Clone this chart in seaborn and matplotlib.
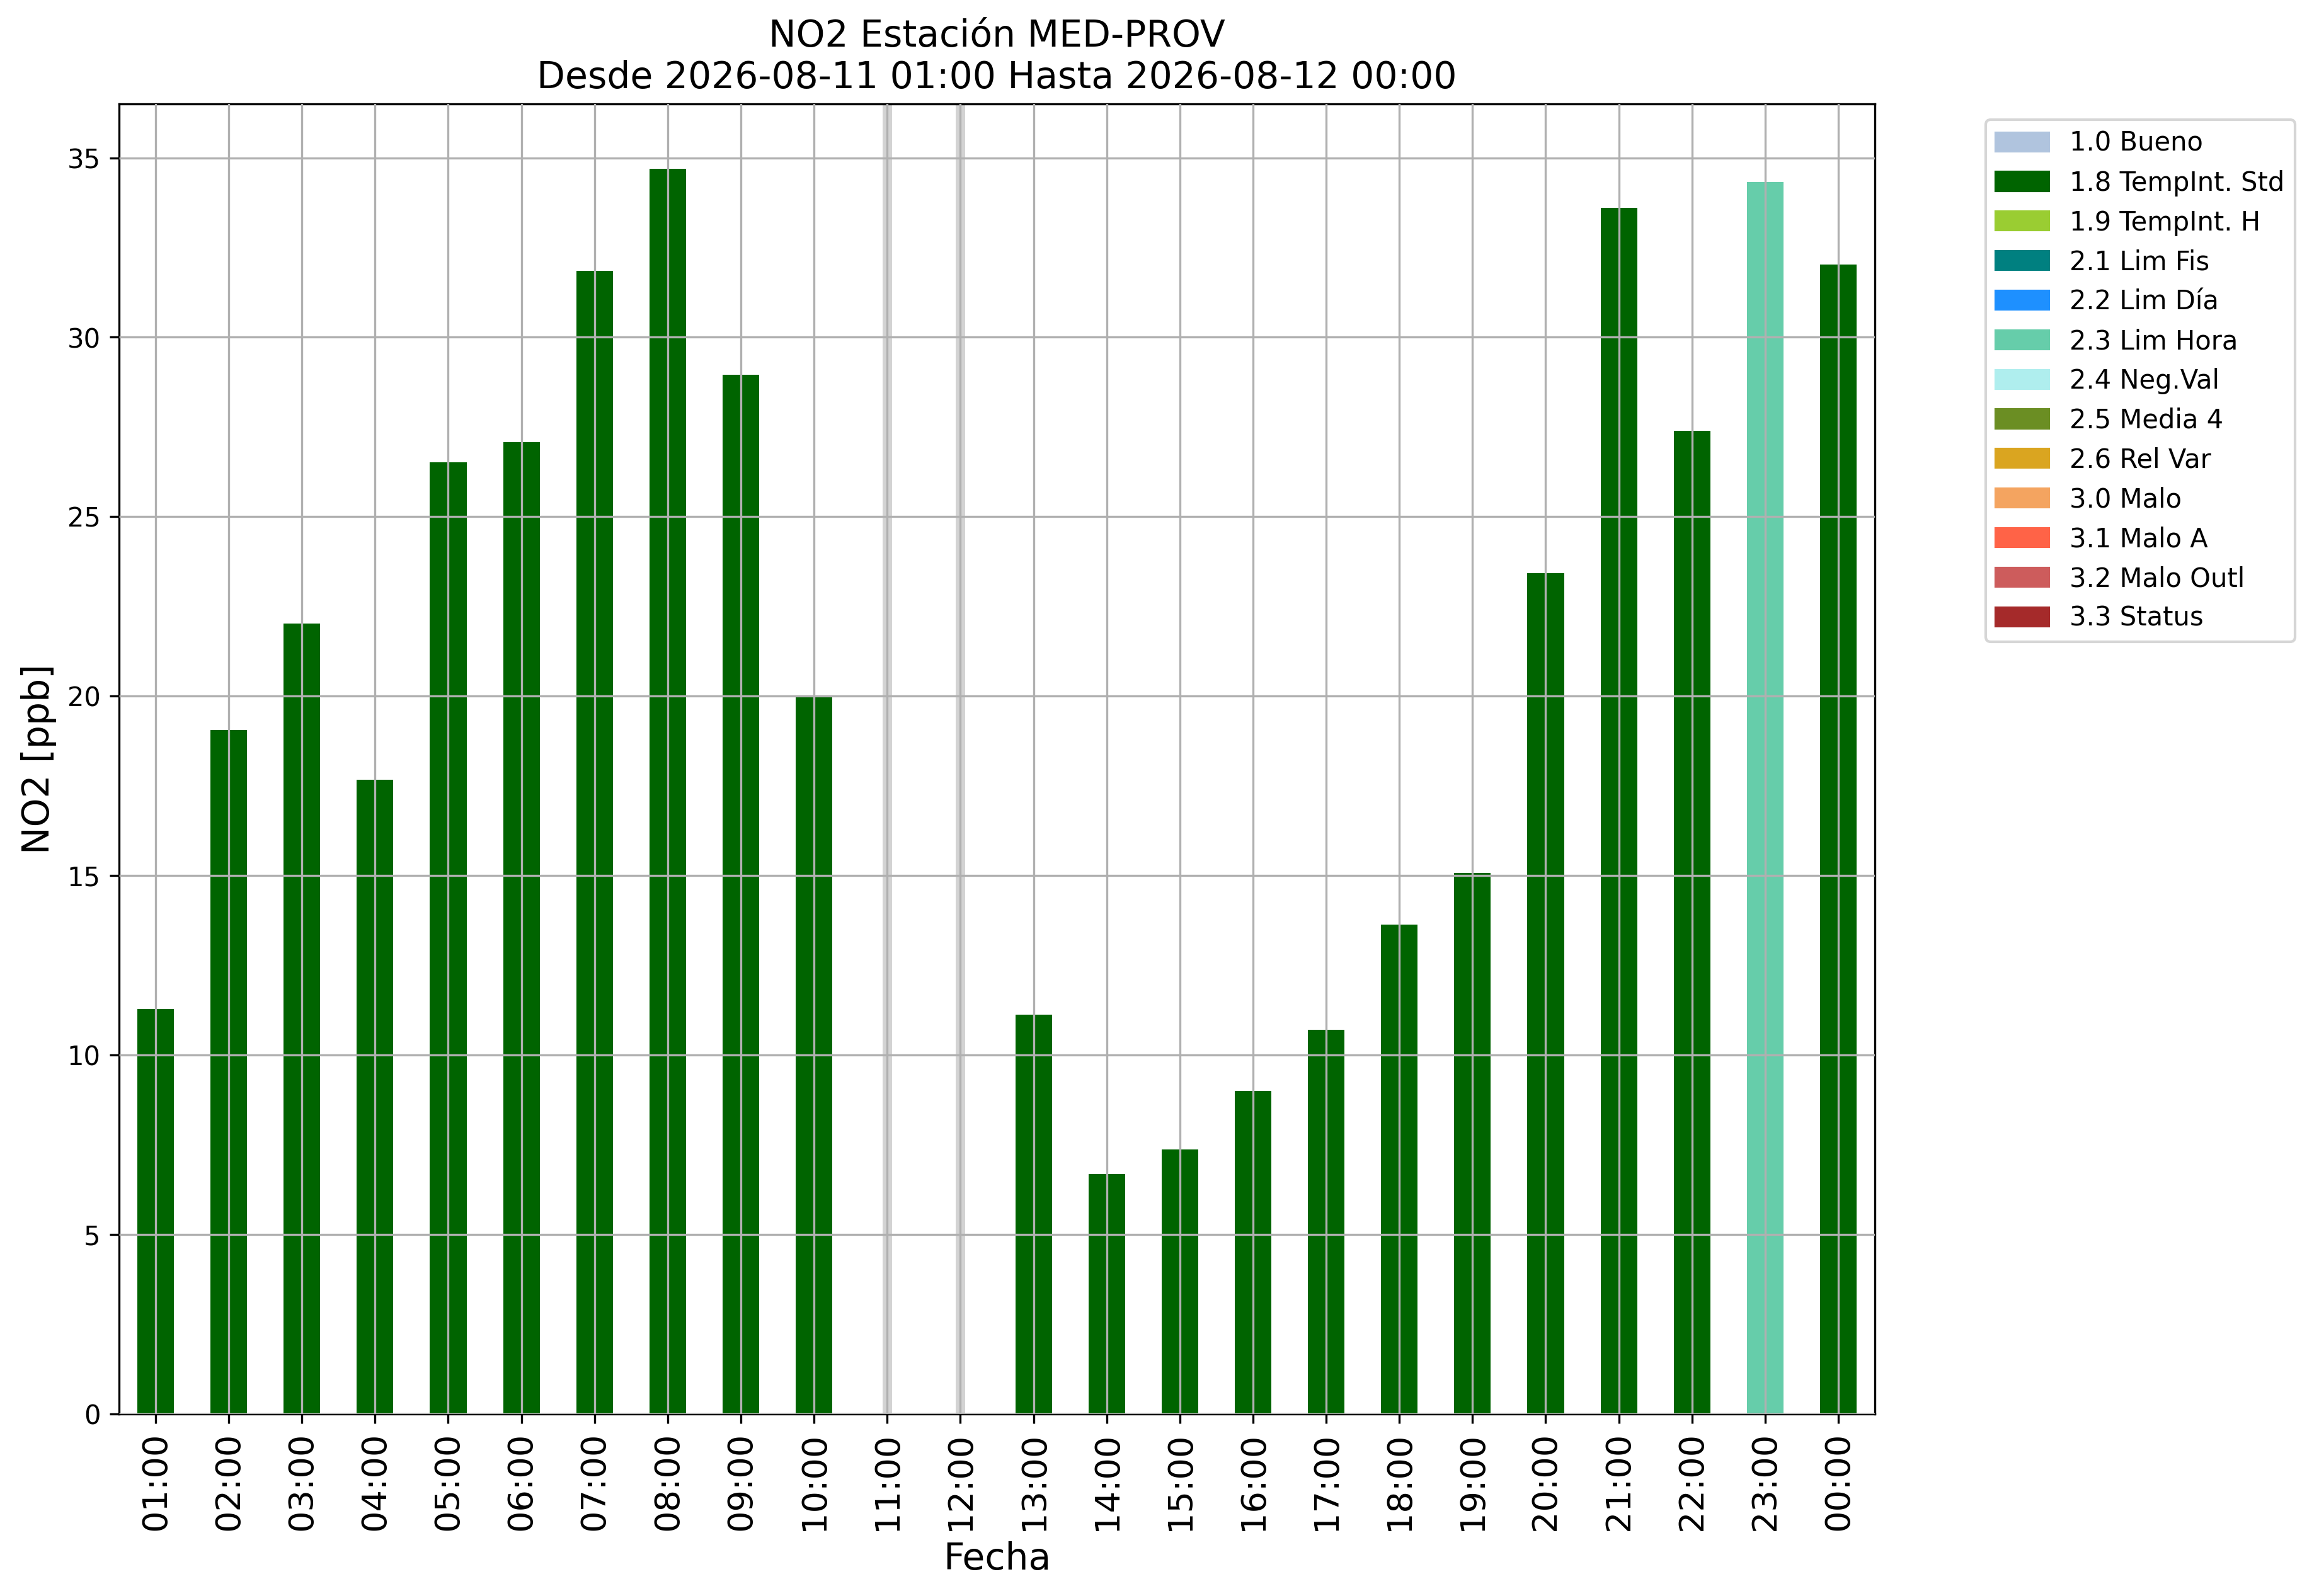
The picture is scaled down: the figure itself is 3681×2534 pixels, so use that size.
import numpy as np
import pandas as pd
import seaborn as sns
from matplotlib import pyplot as plt
from matplotlib.patches import Patch

# hourly NO2 values (ppb), NaN = missing hour
horas = ['01:00', '02:00', '03:00', '04:00', '05:00', '06:00', '07:00', '08:00',
         '09:00', '10:00', '11:00', '12:00', '13:00', '14:00', '15:00', '16:00',
         '17:00', '18:00', '19:00', '20:00', '21:00', '22:00', '23:00', '00:00']
no2 = [11.28, 19.05, 22.02, 17.66, 26.51, 27.08, 31.85, 34.70,
       28.96, 20.00, np.nan, np.nan, 11.12, 6.68, 7.37, 9.00,
       10.70, 13.63, 15.07, 23.42, 33.60, 27.40, 34.33, 32.02]
flags = ['1.8 TempInt. Std'] * 22 + ['2.3 Lim Hora', '1.8 TempInt. Std']

# quality flag legend
flag_labels = ['1.0 Bueno', '1.8 TempInt. Std', '1.9 TempInt. H', '2.1 Lim Fis',
               '2.2 Lim Día', '2.3 Lim Hora', '2.4 Neg.Val', '2.5 Media 4',
               '2.6 Rel Var', '3.0 Malo', '3.1 Malo A', '3.2 Malo Outl', '3.3 Status']
flag_colors = ['lightsteelblue', 'darkgreen', 'yellowgreen', 'teal',
               'dodgerblue', 'mediumaquamarine', 'paleturquoise', 'olivedrab',
               'goldenrod', 'sandybrown', 'tomato', 'indianred', 'brown']
palette = dict(zip(flag_labels, flag_colors))

df = pd.DataFrame({'Fecha': horas, 'NO2': no2, 'flag': flags})

fig, ax = plt.subplots(figsize=(12.273, 8.447), dpi=300)
fig.subplots_adjust(left=0.0513, right=0.8083, top=0.9348, bottom=0.1142)

sns.barplot(data=df, x='Fecha', y='NO2', hue='flag', palette=palette,
            order=horas, dodge=False, width=0.5, errorbar=None,
            saturation=1, legend=False, ax=ax, zorder=1)

# mark missing hours
for i, v in enumerate(no2):
    if np.isnan(v):
        ax.axvline(i, color='lightgray', lw=3.6, zorder=0)

ax.set_xlim(-0.5, len(horas) - 0.5)
ax.set_ylim(0, 36.5)
ax.set_axisbelow(False)
ax.grid(True, color='#b0b0b0', lw=0.8, zorder=2)

ax.set_title('NO2 Estación MED-PROV\nDesde 2026-08-11 01:00 Hasta 2026-08-12 00:00',
             fontsize=14)
ax.set_xlabel('Fecha', fontsize=14)
ax.set_ylabel('NO2 [ppb]', fontsize=14)
ax.tick_params(axis='x', labelsize=13, labelrotation=90)
ax.tick_params(axis='y', labelsize=10)

handles = [Patch(color=c, label=l) for l, c in zip(flag_labels, flag_colors)]
ax.legend(handles=handles, loc='upper left', bbox_to_anchor=(1.063, 0.988),
          borderaxespad=0, fontsize=10)

fig.savefig('out.png', dpi=300)
